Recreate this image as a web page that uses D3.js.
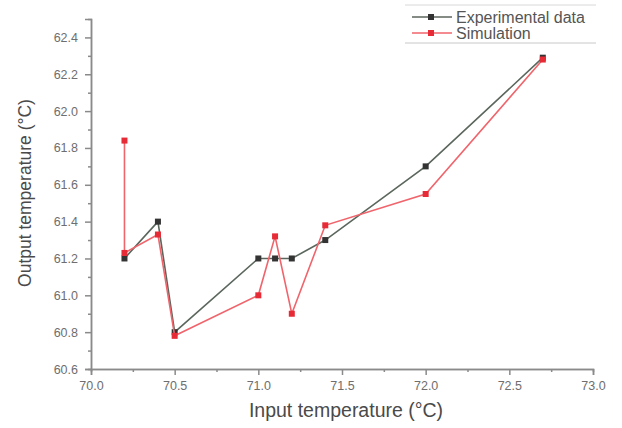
<!DOCTYPE html>
<html>
<head>
<meta charset="utf-8">
<script src="https://cdn.jsdelivr.net/npm/d3@7"></script>
<style>
  body { margin: 0; background: #fff; }
  svg { font-family: "Liberation Sans", Arial, sans-serif; }
</style>
</head>
<body>
<div class="chart"></div>
<script>
// Input vs output temperature: experimental data against simulation

var svgWidth = 622;
var svgHeight = 428;

// plot area edges in pixels
var margin = { top: 19, right: 29, bottom: 59, left: 91 };
var width = svgWidth - margin.left - margin.right;
var height = svgHeight - margin.top - margin.bottom;

// data
var expInput = [70.2, 70.4, 70.5, 71.0, 71.1, 71.2, 71.4, 72.0, 72.7];
var expOutput = [61.2, 61.4, 60.8, 61.2, 61.2, 61.2, 61.3, 61.7, 62.29];

var simInput = [70.2, 70.2, 70.4, 70.5, 71.0, 71.1, 71.2, 71.4, 72.0, 72.7];
var simOutput = [61.84, 61.23, 61.33, 60.78, 61.0, 61.32, 60.9, 61.38, 61.55, 62.28];

var xTicks = [70.0, 70.5, 71.0, 71.5, 72.0, 72.5, 73.0];
var yTicks = [60.6, 60.8, 61.0, 61.2, 61.4, 61.6, 61.8, 62.0, 62.2, 62.4];

var seriesNames = ["Experimental data", "Simulation"];

var svg = d3.select(".chart")
  .append("svg")
  .attr("width", svgWidth)
  .attr("height", svgHeight);

var chart = svg.append("g")
  .attr("transform", "translate(" + margin.left + "," + margin.top + ")");

var xScale = d3.scaleLinear().domain([70, 73]).range([0, width]);
var yScale = d3.scaleLinear().domain([60.6, 62.5]).range([height, 0]);

var axisColor = "#8a8a8a";
var labelColor = "#6e6e6e";

// minor ticks halfway between the major ones
var xMinor = d3.range(70.25, 73, 0.5);
var yMinor = d3.range(60.7, 62.5, 0.2);

var bottomAxis = d3.axisBottom(xScale)
  .tickValues(xTicks)
  .tickFormat(d3.format(".1f"))
  .tickSize(6)
  .tickPadding(6);

var leftAxis = d3.axisLeft(yScale)
  .tickValues(yTicks)
  .tickFormat(d3.format(".1f"))
  .tickSize(6)
  .tickPadding(7);

var xMinorAxis = d3.axisBottom(xScale).tickValues(xMinor).tickSize(3).tickFormat("");
var yMinorAxis = d3.axisLeft(yScale).tickValues(yMinor).tickSize(3).tickFormat("");

function styleAxis(g) {
  g.select(".domain").attr("stroke", axisColor).attr("stroke-width", 1.5);
  g.selectAll(".tick line").attr("stroke", axisColor).attr("stroke-width", 1.5);
  g.selectAll(".tick text")
    .attr("fill", labelColor)
    .attr("font-size", "12.5px");
}

chart.append("g")
  .attr("transform", "translate(0," + height + ")")
  .call(xMinorAxis)
  .call(styleAxis);

chart.append("g")
  .call(yMinorAxis)
  .call(styleAxis);

chart.append("g")
  .attr("transform", "translate(0," + height + ")")
  .call(bottomAxis)
  .call(styleAxis);

chart.append("g")
  .call(leftAxis)
  .call(styleAxis);

// series lines and square markers
var series = [
  { xs: expInput, ys: expOutput, line: "#5b665d", mark: "#333333" },
  { xs: simInput, ys: simOutput, line: "#f0646c", mark: "#e62b36" }
];

var line = d3.line()
  .x(function(d) { return xScale(d[0]); })
  .y(function(d) { return yScale(d[1]); });

series.forEach(function(s) {
  var pts = d3.zip(s.xs, s.ys);
  chart.append("path")
    .datum(pts)
    .attr("fill", "none")
    .attr("stroke", s.line)
    .attr("stroke-width", 1.6)
    .attr("d", line);

  chart.selectAll(null)
    .data(pts)
    .enter().append("rect")
      .attr("x", function(d) { return xScale(d[0]) - 3; })
      .attr("y", function(d) { return yScale(d[1]) - 3; })
      .attr("width", 6)
      .attr("height", 6)
      .attr("fill", s.mark);
});

// axis titles
svg.append("text")
  .attr("x", 346)
  .attr("y", 417)
  .attr("text-anchor", "middle")
  .attr("font-size", "19.5px")
  .attr("fill", "#4a4a4a")
  .text("Input temperature (°C)");

svg.append("text")
  .attr("transform", "translate(31,193) rotate(-90)")
  .attr("text-anchor", "middle")
  .attr("font-size", "17.5px")
  .attr("fill", "#4a4a4a")
  .text("Output temperature (°C)");

// legend with rules above and below
var legend = svg.append("g");

legend.append("line")
  .attr("x1", 405).attr("x2", 596).attr("y1", 5).attr("y2", 5)
  .attr("stroke", "#d8d8d8");
legend.append("line")
  .attr("x1", 405).attr("x2", 596).attr("y1", 43).attr("y2", 43)
  .attr("stroke", "#c8c8c8");

seriesNames.forEach(function(name, i) {
  var y = 17 + i * 16;
  var s = series[i];
  legend.append("line")
    .attr("x1", 412).attr("x2", 452).attr("y1", y).attr("y2", y)
    .attr("stroke", s.line).attr("stroke-width", 1.6);
  legend.append("rect")
    .attr("x", 428).attr("y", y - 3)
    .attr("width", 6).attr("height", 6)
    .attr("fill", s.mark);
  legend.append("text")
    .attr("x", 456)
    .attr("y", y + 5.5)
    .attr("font-size", "16px")
    .attr("fill", "#555")
    .text(name);
});
</script>
</body>
</html>
